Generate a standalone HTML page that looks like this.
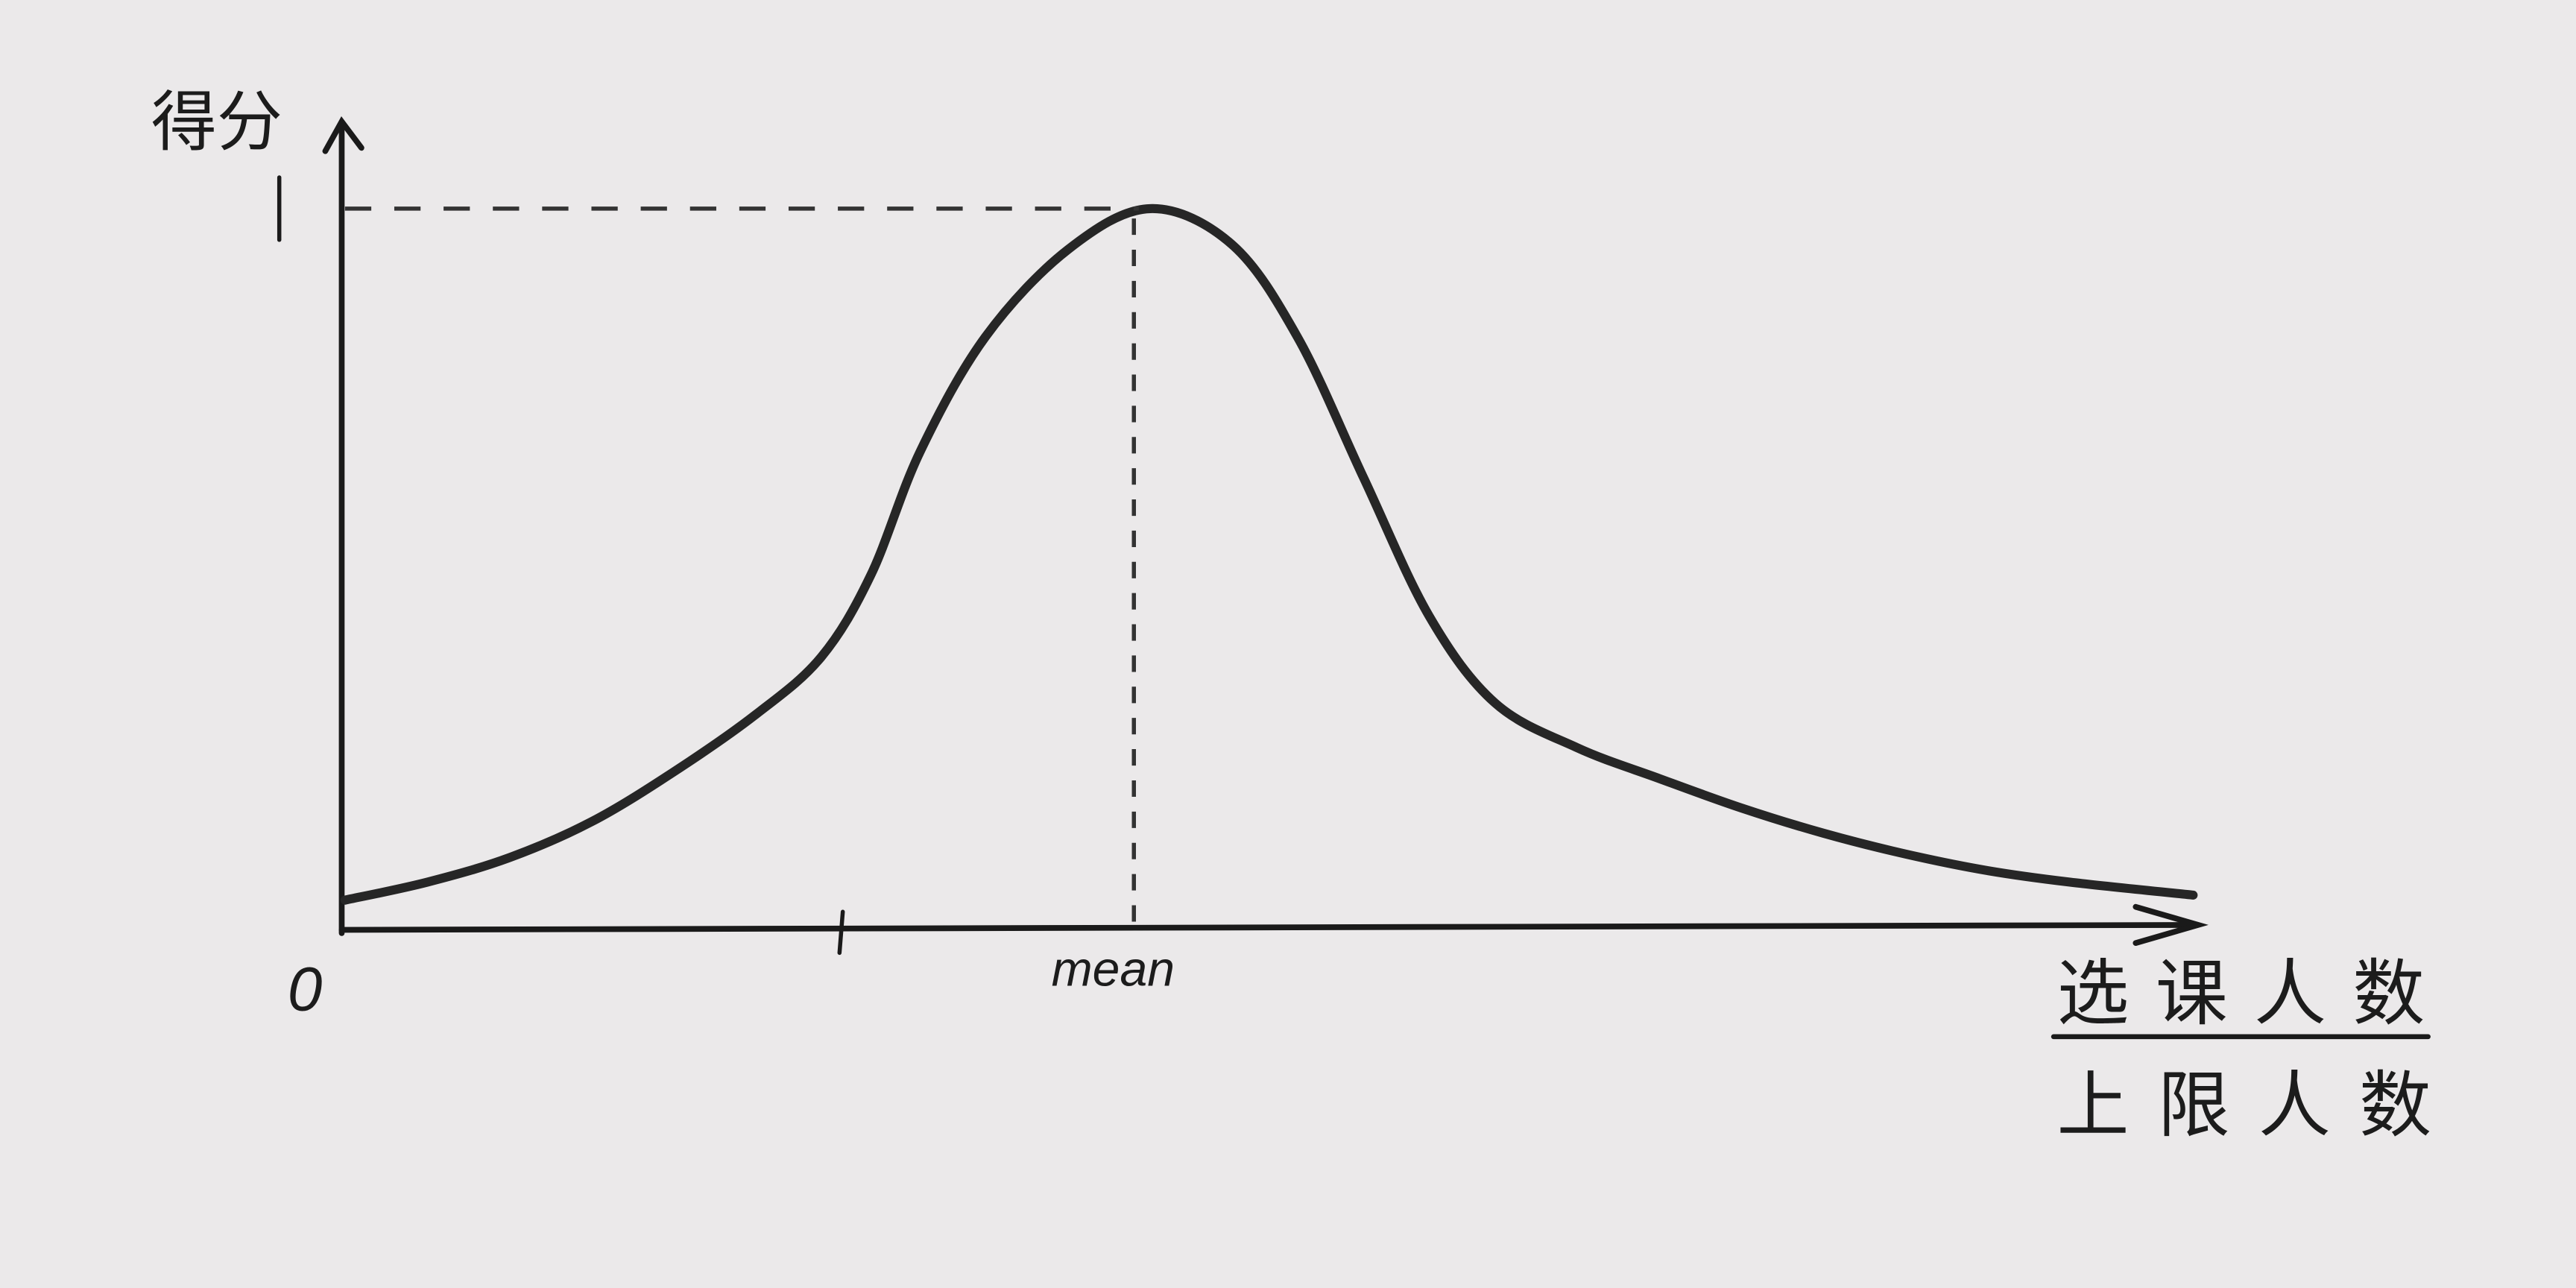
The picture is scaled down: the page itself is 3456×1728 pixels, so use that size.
<!DOCTYPE html>
<html><head><meta charset="utf-8">
<style>
html,body{margin:0;padding:0;background:#ebe9ea;}
svg{display:block;}
text{font-family:"Liberation Sans","Noto Sans CJK SC",sans-serif;fill:#1c1c1c;}
</style></head>
<body>
<svg id="chart" width="3456" height="1728" viewBox="0 0 1568 784" xmlns="http://www.w3.org/2000/svg">
<rect x="0" y="0" width="1568" height="784" fill="#ebe9ea"/>
<g id="axes" stroke="#1a1a1a" stroke-width="3.5" fill="none" stroke-linecap="round">
  <line x1="208" y1="78" x2="208" y2="568"/>
  <polyline points="198,92 208,74 220,90"/>
  <line x1="208" y1="566" x2="1336" y2="563"/>
  <polyline points="1300,552 1338,563 1300,574"/>
  <line x1="170" y1="108" x2="170" y2="146" stroke-width="2.5"/>
  <line x1="513" y1="555" x2="511" y2="580" stroke-width="2.5"/>
  <line x1="1250" y1="631" x2="1478" y2="631" stroke-width="3"/>
</g>
<g id="marks"></g>
<text x="175" y="615" font-size="38" font-style="italic">0</text>
<text x="640" y="600" font-size="30" font-style="italic">mean</text>
<text x="92" y="88" font-size="40">得分</text>
<text x="1252" y="620" font-size="44" textLength="224">选课人数</text>
<text x="1252" y="688" font-size="44" textLength="228">上限人数</text>
</svg>
<script>
const ratios = [0, 0.166, 0.331, 0.497, 0.662, 0.828, 0.96, 1.06, 1.159, 1.291, 1.457, 1.623, 1.788, 1.921, 2.053, 2.185, 2.318, 2.483, 2.649, 2.815, 2.98, 3.146, 3.311, 3.477, 3.725];
const scores = [0.039, 0.064, 0.098, 0.148, 0.217, 0.297, 0.377, 0.491, 0.662, 0.822, 0.943, 1.0, 0.95, 0.82, 0.626, 0.434, 0.313, 0.251, 0.208, 0.167, 0.132, 0.103, 0.08, 0.064, 0.046];
const meanRatio = [1.6];
const peakScore = [1.0];
function xs(v){return 210 + v*302;}
function ys(v){return 565 - v*438;}
const NS="http://www.w3.org/2000/svg";
const g=document.getElementById('marks');
const pts=ratios.map((r,i)=>[xs(r),ys(scores[i])]);
let d="M"+pts[0][0]+","+pts[0][1];
for(let i=0;i<pts.length-1;i++){
  const p0=pts[i-1]||pts[i],p1=pts[i],p2=pts[i+1],p3=pts[i+2]||p2;
  const c1=[p1[0]+(p2[0]-p0[0])/6,p1[1]+(p2[1]-p0[1])/6];
  const c2=[p2[0]-(p3[0]-p1[0])/6,p2[1]-(p3[1]-p1[1])/6];
  d+=" C"+c1+" "+c2+" "+p2;
}
const path=document.createElementNS(NS,'path');
path.setAttribute('d',d);
path.setAttribute('fill','none');
path.setAttribute('stroke','#262626');
path.setAttribute('stroke-width','5.5');
path.setAttribute('stroke-linecap','round');
path.setAttribute('stroke-linejoin','round');


g.appendChild(path);
const hl=document.createElementNS(NS,'line');
hl.setAttribute('x1',xs(0));hl.setAttribute('y1',ys(peakScore[0]));
hl.setAttribute('x2',xs(meanRatio[0]));hl.setAttribute('y2',ys(peakScore[0]));
hl.setAttribute('stroke','#333');hl.setAttribute('stroke-width','2.5');hl.setAttribute('stroke-dasharray','16 14');


g.appendChild(hl);
const vl=document.createElementNS(NS,'line');
vl.setAttribute('x1',xs(meanRatio[0])-3);vl.setAttribute('y1',ys(peakScore[0])+6);
vl.setAttribute('x2',xs(meanRatio[0])-3);vl.setAttribute('y2',ys(0)-4);
vl.setAttribute('stroke','#333');vl.setAttribute('stroke-width','2.5');vl.setAttribute('stroke-dasharray','10 9');


g.appendChild(vl);
</script>
</body></html>
